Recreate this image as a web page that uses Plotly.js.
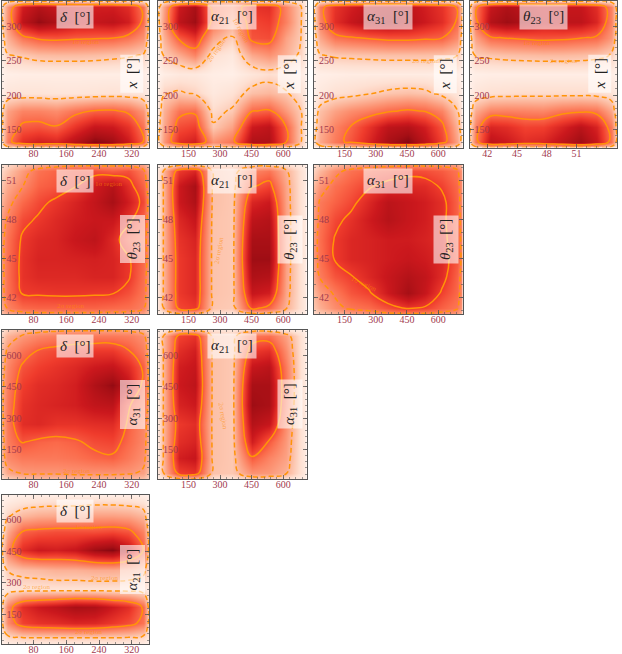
<!DOCTYPE html>
<html>
<head>
<meta charset="utf-8">
<script src="https://cdn.plot.ly/plotly-3.0.1.min.js"></script>
<style>
  html, body { margin: 0; padding: 0; background: #fff; }
  #corner { width: 622px; height: 654px; }
</style>
</head>
<body>
<div id="corner"></div>
<script>
// grid nodes as fractions of each axis range (tighter near the frame, where the density drops off)
const NODE_FRAC = [0, 0.04, 0.14, 0.25, 0.37, 0.5, 0.63, 0.75, 0.86, 0.96, 1];

// axis ranges
const X_RANGE = { delta: [2, 362], a21: [5, 711], a31: [4, 717], th23: [40.2, 55.1] };
const Y_RANGE = { x: [123, 338], th23: [40.7, 52.2], a31: [6, 725], a21: [12, 715] };
const TICKS = {
  delta: [80, 160, 240, 320],
  a21: [150, 300, 450, 600],
  a31: [150, 300, 450, 600],
  th23: [42, 45, 48, 51],
  x: [150, 200, 250, 300],
};
const MINOR_STEP = { delta: 20, a21: 30, a31: 30, th23: 1, x: 10 };

const LABELS = {
  delta: '<i>δ</i>\u00a0\u00a0[°]',
  a21: '<i>α</i><sub>21</sub>\u00a0\u00a0[°]',
  a31: '<i>α</i><sub>31</sub>\u00a0\u00a0[°]',
  th23: '<i>θ</i><sub>23</sub>\u00a0\u00a0[°]',
  x: '<i>x</i>\u00a0\u00a0[°]',
};

// relative posterior density, rows from top to bottom of each panel
const DENS_DELTA_X = [
  [0.05, 0.14, 0.18, 0.18, 0.18, 0.18, 0.18, 0.18, 0.18, 0.15, 0.05],
  [0.15, 0.38, 0.78, 0.88, 0.82, 0.78, 0.78, 0.78, 0.72, 0.50, 0.15],
  [0.15, 0.40, 0.85, 0.97, 0.90, 0.82, 0.82, 0.85, 0.78, 0.52, 0.15],
  [0.12, 0.30, 0.50, 0.58, 0.60, 0.58, 0.57, 0.56, 0.50, 0.40, 0.12],
  [0.06, 0.19, 0.22, 0.26, 0.27, 0.27, 0.26, 0.24, 0.22, 0.19, 0.06],
  [0.02, 0.04, 0.05, 0.05, 0.05, 0.05, 0.05, 0.05, 0.05, 0.04, 0.02],
  [0.04, 0.10, 0.11, 0.11, 0.10, 0.10, 0.11, 0.12, 0.11, 0.09, 0.04],
  [0.14, 0.35, 0.45, 0.45, 0.42, 0.50, 0.56, 0.57, 0.52, 0.38, 0.14],
  [0.15, 0.40, 0.58, 0.60, 0.56, 0.70, 0.82, 0.80, 0.70, 0.50, 0.15],
  [0.15, 0.48, 0.72, 0.78, 0.75, 0.88, 1.00, 0.95, 0.80, 0.56, 0.15],
  [0.05, 0.15, 0.18, 0.18, 0.18, 0.18, 0.18, 0.18, 0.18, 0.15, 0.05],
];
const DENS_A21_X = [
  [0.05, 0.14, 0.18, 0.18, 0.17, 0.17, 0.17, 0.17, 0.16, 0.12, 0.04],
  [0.14, 0.35, 0.80, 0.92, 0.48, 0.40, 0.70, 0.72, 0.45, 0.22, 0.06],
  [0.15, 0.38, 0.85, 0.95, 0.50, 0.32, 0.64, 0.67, 0.46, 0.22, 0.06],
  [0.12, 0.30, 0.58, 0.70, 0.33, 0.19, 0.60, 0.62, 0.35, 0.21, 0.05],
  [0.06, 0.21, 0.32, 0.45, 0.13, 0.08, 0.33, 0.40, 0.30, 0.17, 0.05],
  [0.02, 0.05, 0.08, 0.08, 0.05, 0.04, 0.10, 0.14, 0.10, 0.05, 0.02],
  [0.06, 0.19, 0.22, 0.18, 0.08, 0.12, 0.25, 0.28, 0.22, 0.12, 0.04],
  [0.10, 0.30, 0.50, 0.52, 0.15, 0.22, 0.54, 0.57, 0.38, 0.21, 0.06],
  [0.14, 0.33, 0.62, 0.66, 0.22, 0.35, 0.80, 0.85, 0.56, 0.22, 0.06],
  [0.15, 0.38, 0.72, 0.78, 0.40, 0.50, 0.90, 0.90, 0.58, 0.22, 0.06],
  [0.05, 0.15, 0.18, 0.18, 0.17, 0.18, 0.18, 0.18, 0.18, 0.14, 0.04],
];
const DENS_A31_X = [
  [0.05, 0.14, 0.18, 0.18, 0.18, 0.18, 0.18, 0.18, 0.18, 0.14, 0.05],
  [0.14, 0.48, 0.70, 0.78, 0.85, 0.88, 0.85, 0.78, 0.70, 0.54, 0.14],
  [0.15, 0.45, 0.72, 0.82, 0.90, 0.92, 0.88, 0.80, 0.72, 0.54, 0.15],
  [0.12, 0.33, 0.50, 0.54, 0.57, 0.60, 0.60, 0.58, 0.56, 0.42, 0.12],
  [0.06, 0.19, 0.22, 0.23, 0.24, 0.25, 0.25, 0.25, 0.24, 0.21, 0.06],
  [0.02, 0.04, 0.05, 0.06, 0.06, 0.06, 0.06, 0.06, 0.05, 0.04, 0.02],
  [0.03, 0.08, 0.13, 0.15, 0.19, 0.23, 0.25, 0.23, 0.16, 0.10, 0.03],
  [0.08, 0.25, 0.35, 0.42, 0.47, 0.53, 0.57, 0.54, 0.45, 0.22, 0.06],
  [0.12, 0.30, 0.45, 0.56, 0.70, 0.85, 0.88, 0.78, 0.60, 0.30, 0.10],
  [0.15, 0.33, 0.48, 0.60, 0.75, 0.92, 1.00, 0.85, 0.65, 0.35, 0.12],
  [0.05, 0.13, 0.17, 0.18, 0.18, 0.18, 0.18, 0.18, 0.18, 0.15, 0.05],
];
const DENS_TH23_X = [
  [0.05, 0.14, 0.18, 0.18, 0.18, 0.18, 0.18, 0.18, 0.18, 0.14, 0.05],
  [0.14, 0.50, 0.82, 0.90, 0.85, 0.80, 0.82, 0.82, 0.72, 0.45, 0.13],
  [0.15, 0.50, 0.88, 0.95, 0.90, 0.82, 0.85, 0.85, 0.75, 0.45, 0.14],
  [0.12, 0.35, 0.53, 0.56, 0.58, 0.60, 0.59, 0.56, 0.53, 0.38, 0.12],
  [0.06, 0.21, 0.23, 0.25, 0.26, 0.27, 0.27, 0.26, 0.24, 0.19, 0.06],
  [0.02, 0.04, 0.05, 0.05, 0.05, 0.05, 0.05, 0.05, 0.05, 0.04, 0.02],
  [0.04, 0.10, 0.13, 0.14, 0.15, 0.15, 0.15, 0.15, 0.14, 0.11, 0.04],
  [0.10, 0.32, 0.45, 0.46, 0.45, 0.44, 0.50, 0.52, 0.50, 0.33, 0.10],
  [0.15, 0.45, 0.75, 0.72, 0.65, 0.66, 0.76, 0.86, 0.76, 0.48, 0.14],
  [0.15, 0.48, 0.85, 0.80, 0.72, 0.75, 0.85, 0.95, 0.82, 0.50, 0.15],
  [0.05, 0.15, 0.18, 0.18, 0.18, 0.18, 0.18, 0.18, 0.18, 0.15, 0.05],
];
const DENS_DELTA_TH23 = [
  [0.12, 0.18, 0.28, 0.36, 0.42, 0.44, 0.45, 0.45, 0.44, 0.38, 0.22],
  [0.18, 0.25, 0.40, 0.55, 0.60, 0.66, 0.66, 0.62, 0.66, 0.52, 0.35],
  [0.25, 0.35, 0.47, 0.60, 0.64, 0.71, 0.85, 0.95, 0.78, 0.60, 0.40],
  [0.32, 0.42, 0.58, 0.68, 0.75, 0.82, 0.90, 1.00, 0.85, 0.68, 0.42],
  [0.40, 0.50, 0.68, 0.74, 0.80, 0.85, 0.88, 0.88, 0.76, 0.60, 0.42],
  [0.42, 0.55, 0.74, 0.80, 0.82, 0.88, 0.92, 0.80, 0.62, 0.55, 0.42],
  [0.42, 0.56, 0.76, 0.82, 0.82, 0.83, 0.84, 0.82, 0.74, 0.58, 0.42],
  [0.42, 0.56, 0.76, 0.80, 0.80, 0.80, 0.82, 0.82, 0.74, 0.56, 0.40],
  [0.42, 0.55, 0.73, 0.74, 0.75, 0.75, 0.74, 0.73, 0.66, 0.54, 0.40],
  [0.35, 0.49, 0.58, 0.60, 0.60, 0.60, 0.60, 0.58, 0.56, 0.50, 0.35],
  [0.25, 0.35, 0.42, 0.44, 0.44, 0.44, 0.44, 0.43, 0.42, 0.38, 0.25],
];
const DENS_A21_TH23 = [
  [0.04, 0.10, 0.25, 0.26, 0.12, 0.10, 0.20, 0.22, 0.15, 0.07, 0.03],
  [0.10, 0.30, 0.68, 0.75, 0.25, 0.20, 0.45, 0.50, 0.30, 0.12, 0.05],
  [0.10, 0.30, 0.80, 0.92, 0.25, 0.22, 0.58, 0.65, 0.34, 0.12, 0.05],
  [0.10, 0.30, 0.80, 0.90, 0.25, 0.22, 0.75, 0.80, 0.35, 0.12, 0.05],
  [0.10, 0.30, 0.74, 0.82, 0.24, 0.22, 0.85, 0.88, 0.36, 0.12, 0.05],
  [0.10, 0.30, 0.70, 0.76, 0.24, 0.22, 0.92, 0.92, 0.36, 0.12, 0.05],
  [0.10, 0.30, 0.68, 0.74, 0.24, 0.22, 0.95, 0.95, 0.36, 0.12, 0.05],
  [0.10, 0.30, 0.68, 0.74, 0.24, 0.22, 0.90, 0.88, 0.35, 0.12, 0.05],
  [0.10, 0.30, 0.68, 0.74, 0.24, 0.22, 0.82, 0.78, 0.34, 0.12, 0.05],
  [0.10, 0.29, 0.64, 0.68, 0.23, 0.21, 0.64, 0.55, 0.30, 0.12, 0.05],
  [0.04, 0.10, 0.25, 0.26, 0.12, 0.10, 0.22, 0.20, 0.14, 0.07, 0.03],
];
const DENS_A31_TH23 = [
  [0.15, 0.20, 0.30, 0.38, 0.42, 0.45, 0.46, 0.46, 0.45, 0.40, 0.25],
  [0.20, 0.30, 0.45, 0.55, 0.60, 0.63, 0.67, 0.66, 0.62, 0.54, 0.38],
  [0.30, 0.42, 0.55, 0.62, 0.70, 0.77, 0.80, 0.78, 0.70, 0.58, 0.40],
  [0.38, 0.52, 0.60, 0.68, 0.80, 0.92, 0.88, 0.84, 0.77, 0.60, 0.42],
  [0.40, 0.54, 0.68, 0.76, 0.85, 0.94, 0.88, 0.84, 0.77, 0.60, 0.43],
  [0.42, 0.56, 0.73, 0.80, 0.82, 0.85, 0.85, 0.82, 0.78, 0.62, 0.44],
  [0.42, 0.55, 0.73, 0.80, 0.82, 0.85, 0.88, 0.85, 0.80, 0.64, 0.45],
  [0.38, 0.51, 0.64, 0.71, 0.80, 0.88, 0.95, 0.90, 0.78, 0.60, 0.43],
  [0.30, 0.40, 0.52, 0.64, 0.70, 0.86, 1.00, 0.88, 0.70, 0.58, 0.42],
  [0.25, 0.33, 0.45, 0.53, 0.57, 0.66, 0.74, 0.70, 0.60, 0.53, 0.38],
  [0.15, 0.22, 0.30, 0.38, 0.42, 0.46, 0.48, 0.47, 0.45, 0.40, 0.25],
];
const DENS_DELTA_A31 = [
  [0.12, 0.20, 0.28, 0.33, 0.35, 0.36, 0.36, 0.36, 0.35, 0.30, 0.18],
  [0.18, 0.30, 0.39, 0.45, 0.48, 0.50, 0.50, 0.50, 0.48, 0.42, 0.28],
  [0.28, 0.40, 0.52, 0.61, 0.65, 0.68, 0.70, 0.70, 0.61, 0.48, 0.32],
  [0.30, 0.45, 0.62, 0.68, 0.72, 0.76, 0.82, 0.85, 0.75, 0.58, 0.34],
  [0.32, 0.48, 0.68, 0.74, 0.76, 0.80, 0.92, 1.00, 0.85, 0.56, 0.35],
  [0.33, 0.50, 0.72, 0.76, 0.78, 0.80, 0.86, 0.88, 0.62, 0.50, 0.34],
  [0.32, 0.50, 0.74, 0.76, 0.72, 0.72, 0.74, 0.75, 0.58, 0.45, 0.33],
  [0.30, 0.48, 0.61, 0.57, 0.55, 0.58, 0.64, 0.66, 0.55, 0.45, 0.30],
  [0.30, 0.44, 0.50, 0.50, 0.50, 0.52, 0.56, 0.58, 0.50, 0.42, 0.30],
  [0.22, 0.34, 0.39, 0.40, 0.40, 0.41, 0.41, 0.41, 0.40, 0.36, 0.24],
  [0.12, 0.20, 0.26, 0.28, 0.28, 0.30, 0.30, 0.30, 0.28, 0.25, 0.15],
];
const DENS_A21_A31 = [
  [0.04, 0.10, 0.25, 0.26, 0.12, 0.10, 0.20, 0.20, 0.12, 0.06, 0.03],
  [0.10, 0.30, 0.65, 0.70, 0.25, 0.22, 0.50, 0.52, 0.35, 0.12, 0.05],
  [0.10, 0.30, 0.72, 0.78, 0.25, 0.22, 0.68, 0.72, 0.42, 0.12, 0.05],
  [0.10, 0.30, 0.78, 0.82, 0.25, 0.22, 0.82, 0.86, 0.48, 0.12, 0.05],
  [0.10, 0.30, 0.80, 0.85, 0.25, 0.22, 0.92, 0.92, 0.50, 0.12, 0.05],
  [0.10, 0.30, 0.76, 0.80, 0.25, 0.22, 0.95, 0.92, 0.48, 0.12, 0.05],
  [0.10, 0.30, 0.68, 0.72, 0.25, 0.22, 0.88, 0.82, 0.42, 0.12, 0.05],
  [0.10, 0.30, 0.72, 0.76, 0.25, 0.22, 0.78, 0.58, 0.38, 0.12, 0.05],
  [0.10, 0.30, 0.78, 0.82, 0.25, 0.22, 0.58, 0.45, 0.35, 0.12, 0.05],
  [0.10, 0.29, 0.66, 0.70, 0.24, 0.22, 0.40, 0.38, 0.30, 0.12, 0.05],
  [0.04, 0.10, 0.25, 0.26, 0.12, 0.10, 0.20, 0.20, 0.12, 0.06, 0.03],
];
const DENS_DELTA_A21 = [
  [0.02, 0.03, 0.04, 0.05, 0.05, 0.05, 0.05, 0.05, 0.05, 0.04, 0.02],
  [0.03, 0.06, 0.10, 0.12, 0.13, 0.13, 0.14, 0.14, 0.13, 0.10, 0.04],
  [0.06, 0.18, 0.28, 0.32, 0.33, 0.34, 0.36, 0.36, 0.34, 0.28, 0.08],
  [0.10, 0.32, 0.56, 0.60, 0.62, 0.62, 0.62, 0.64, 0.60, 0.45, 0.14],
  [0.15, 0.45, 0.72, 0.80, 0.78, 0.82, 0.95, 1.00, 0.85, 0.56, 0.16],
  [0.08, 0.21, 0.25, 0.27, 0.30, 0.30, 0.32, 0.32, 0.30, 0.25, 0.12],
  [0.04, 0.10, 0.12, 0.12, 0.12, 0.12, 0.12, 0.12, 0.12, 0.10, 0.04],
  [0.15, 0.45, 0.72, 0.80, 0.85, 0.92, 0.90, 0.80, 0.72, 0.53, 0.15],
  [0.15, 0.42, 0.65, 0.70, 0.72, 0.75, 0.74, 0.68, 0.62, 0.50, 0.15],
  [0.06, 0.15, 0.18, 0.19, 0.19, 0.19, 0.19, 0.19, 0.18, 0.15, 0.06],
  [0.02, 0.05, 0.07, 0.08, 0.08, 0.08, 0.08, 0.08, 0.07, 0.05, 0.02],
];

// [column, row, x variable, y variable, density, 1 sigma level, 2 sigma level]
const PANELS = [
  [0, 0, 'delta', 'x', DENS_DELTA_X, 0.55, 0.2],
  [1, 0, 'a21', 'x', DENS_A21_X, 0.55, 0.2],
  [2, 0, 'a31', 'x', DENS_A31_X, 0.55, 0.2],
  [3, 0, 'th23', 'x', DENS_TH23_X, 0.55, 0.2],
  [0, 1, 'delta', 'th23', DENS_DELTA_TH23, 0.72, 0.48],
  [1, 1, 'a21', 'th23', DENS_A21_TH23, 0.6, 0.28],
  [2, 1, 'a31', 'th23', DENS_A31_TH23, 0.72, 0.5],
  [0, 2, 'delta', 'a31', DENS_DELTA_A31, 0.6, 0.38],
  [1, 2, 'a21', 'a31', DENS_A21_A31, 0.6, 0.28],
  [0, 3, 'delta', 'a21', DENS_DELTA_A21, 0.55, 0.2],
];
// top of the colour scale for each panel
const COLOR_MAX = [1.07, 1.07, 1.07, 1.07, 1.16, 1.07, 1.15, 1.1, 1.07, 1.07];

// contour captions: [panel, x, y, text, angle]
const REGION_TAGS = [
  [0, 206, 278, '1σ region', 0],
  [1, 285, 266, '2σ region', -55],
  [1, 396, 295, '1σ region', 60],
  [2, 539, 250, '2σ region', 0],
  [3, 47.0, 277, '1σ region', 0],
  [3, 49.7, 250, '2σ region', 0],
  [4, 262, 50.7, '1σ region', 0],
  [4, 171, 41.3, '2σ region', 0],
  [5, 293, 45.6, '2σ region', -80],
  [6, 241, 43.0, '1σ region', 25],
  [7, 185, 45, '2σ region', 0],
  [8, 315, 312, '2σ region', 80],
  [9, 214, 564, '1σ region', 0],
  [9, 254, 324, '2σ region', 0],
  [9, 88, 279, '2σ region', 0],
  [9, 214, 70, '2σ region', 0],
];

const W = 622, H = 654;
const COL_PX = [[1.5, 149], [158, 306.5], [314, 462.5], [469.5, 617]];
const ROW_PX = [[1, 147.5], [165, 314], [330, 479], [495, 644]];
// y tick labels are pulled into the frame by this many px (their width differs per variable)
const Y_LABEL_PULL = { x: -23, th23: -18, a31: -23, a21: -23 };

const REDS = [
  [0, '#fff5f0'], [0.125, '#fee0d2'], [0.25, '#fcbba1'], [0.375, '#fc9272'],
  [0.5, '#fb6a4a'], [0.625, '#ef3b2c'], [0.75, '#cb181d'], [0.875, '#a50f15'], [1, '#67000d'],
];
const ORANGE = '#ff9408';
const SERIF = 'Liberation Serif, DejaVu Serif, serif';

function axisStyle(range, v, domain, anchor, isY) {
  return {
    domain, anchor, range,
    tickmode: 'array', tickvals: TICKS[v],
    ticks: 'inside', ticklen: 4, tickwidth: 0.8, tickcolor: '#555',
    minor: { ticks: 'inside', ticklen: 2, tickwidth: 0.6, tickcolor: '#555', tick0: 0, dtick: MINOR_STEP[v], showgrid: false },
    showline: true, linecolor: '#555', linewidth: 1, mirror: 'allticks',
    showgrid: false, zeroline: false, fixedrange: true,
    ticklabelstandoff: isY ? Y_LABEL_PULL[v] : -4,
    tickfont: { family: SERIF, size: 10, color: '#a23a4e' },
  };
}

const data = [];
const layout = {
  width: W, height: H,
  margin: { l: 0, r: 0, t: 0, b: 0 },
  paper_bgcolor: '#fff', plot_bgcolor: '#fff',
  showlegend: false,
  annotations: [],
};

PANELS.forEach((p, i) => {
  const [col, row, xv, yv, dens, lev1, lev2] = p;
  const n = i === 0 ? '' : String(i + 1);
  const xr = X_RANGE[xv], yr = Y_RANGE[yv];
  const xs = NODE_FRAC.map(f => xr[0] + f * (xr[1] - xr[0]));
  const ys = NODE_FRAC.map(f => yr[0] + f * (yr[1] - yr[0]));
  const z = dens.slice().reverse();
  const [L, R] = COL_PX[col];
  const [T, B] = ROW_PX[row];

  data.push({
    type: 'heatmap', x: xs, y: ys, z,
    xaxis: 'x' + n, yaxis: 'y' + n,
    zmin: 0, zmax: COLOR_MAX[i], colorscale: REDS, zsmooth: 'best',
    showscale: false, hoverinfo: 'skip',
  });
  [[lev2, '5px,3px'], [lev1, 'solid']].forEach(([lev, dash]) => {
    data.push({
      type: 'contour', x: xs, y: ys, z,
      xaxis: 'x' + n, yaxis: 'y' + n,
      autocontour: false,
      contours: { start: lev, end: lev, size: 1, coloring: 'none' },
      line: { color: ORANGE, width: 1.5, dash, smoothing: 1.3 },
      showscale: false, hoverinfo: 'skip',
    });
  });

  layout['xaxis' + n] = axisStyle(xr, xv, [L / W, R / W], 'y' + n, false);
  layout['yaxis' + n] = axisStyle(yr, yv, [1 - B / H, 1 - T / H], 'x' + n, true);

  // axis names sit in translucent boxes inside the frame
  layout.annotations.push({
    xref: 'paper', yref: 'paper',
    x: (L + R) / 2 / W, y: 1 - (T + 16) / H,
    xanchor: 'center', yanchor: 'middle',
    text: LABELS[xv], showarrow: false,
    font: { family: SERIF, size: 15, color: '#222' },
    bgcolor: 'rgba(255,255,255,0.6)', borderpad: 3,
  });
  layout.annotations.push({
    xref: 'paper', yref: 'paper',
    x: (R - 17) / W, y: 1 - (T + B) / 2 / H,
    xanchor: 'center', yanchor: 'middle',
    text: LABELS[yv], showarrow: false, textangle: -90,
    font: { family: SERIF, size: 15, color: '#222' },
    bgcolor: 'rgba(255,255,255,0.6)', borderpad: 3,
  });
});

REGION_TAGS.forEach(([i, x, y, text, angle]) => {
  const n = i === 0 ? '' : String(i + 1);
  layout.annotations.push({
    xref: 'x' + n, yref: 'y' + n, x, y, text, textangle: angle,
    xanchor: 'center', yanchor: 'middle',
    showarrow: false,
    font: { family: SERIF, size: 7, color: 'rgba(255,140,0,0.6)' },
  });
});

Plotly.newPlot('corner', data, layout, { displayModeBar: false, staticPlot: true });
</script>
</body>
</html>
